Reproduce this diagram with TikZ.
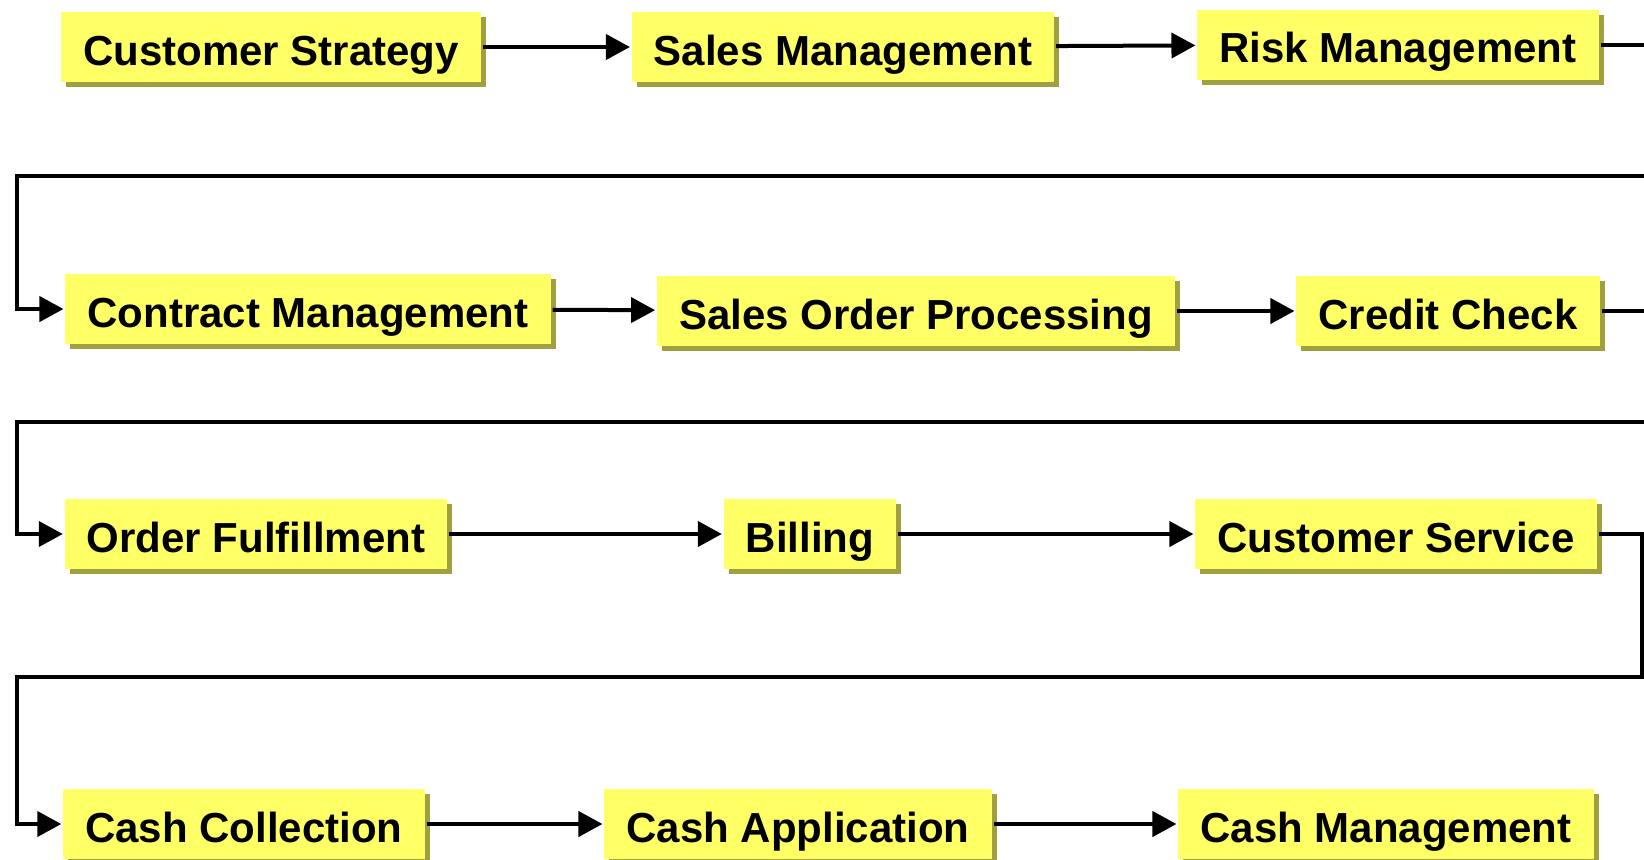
\documentclass[tikz,border=0pt]{standalone}
\usepackage{fontspec}
\setmainfont{Liberation Sans}
\usetikzlibrary{arrows.meta,shadows}

\definecolor{boxfill}{RGB}{255,255,102}
\definecolor{boxshade}{RGB}{160,160,64}

\begin{document}
\begin{tikzpicture}[x=0.5pt, y=-0.5pt, line width=2pt,
        n/.style={fill=boxfill, inner xsep=11pt, inner ysep=4pt,
            text height=22.5pt, text depth=4.5pt,
            font=\fontsize{21}{25}\selectfont\bfseries,
            drop shadow={shadow xshift=2.5pt, shadow yshift=-2.5pt, fill=boxshade, opacity=1}},
        >={Triangle[length=12pt, width=12.5pt]}]
            \useasboundingbox (0,0) rectangle (1644,859);
            \clip (0,0) rectangle (1644,859);

            % first row
            \node[n] (cs) at (271, 47) {Customer Strategy};
            \node[n] (sm) at (843, 47) {Sales Management};
            \node[n] (rm) at (1398, 44.5) {Risk Management};

            % second row
            \node[n] (cm) at (308, 309) {Contract Management};
            \node[n] (so) at (916, 311) {Sales Order Processing};
            \node[n] (cc) at (1448, 311) {Credit Check};

            % third row
            \node[n] (of) at (256, 534) {Order Fulfillment};
            \node[n] (bi) at (810, 534) {Billing};
            \node[n] (cu) at (1396, 534) {Customer Service};

            % last row
            \node[n] (cl) at (244, 824) {Cash Collection};
            \node[n] (ca) at (798, 824) {Cash Application};
            \node[n] (mg) at (1386, 824) {Cash Management};

            % turning points of the row changes
            \coordinate (r1) at (1660, 176);
            \coordinate (l1) at (16.8, 176);
            \coordinate (r2) at (1660, 421.5);
            \coordinate (l2) at (16.8, 421.5);
            \coordinate (r3) at (1642, 677);
            \coordinate (l3) at (16.8, 677);

            \draw[->] (cs) -- (sm);
            \draw[->] (sm) -- (rm);
            \draw[->] (rm.east) -| (r1) -- (l1) |- (cm.west);

            \draw[->] (cm) -- (so);
            \draw[->] (so) -- (cc);
            \draw[->] (cc.east) -| (r2) -- (l2) |- (of.west);

            \draw[->] (of) -- (bi);
            \draw[->] (bi) -- (cu);
            \draw[->] (cu.east) -| (r3) -- (l3) |- (cl.west);

            \draw[->] (cl) -- (ca);
            \draw[->] (ca) -- (mg);
        \end{tikzpicture}
\end{document}
